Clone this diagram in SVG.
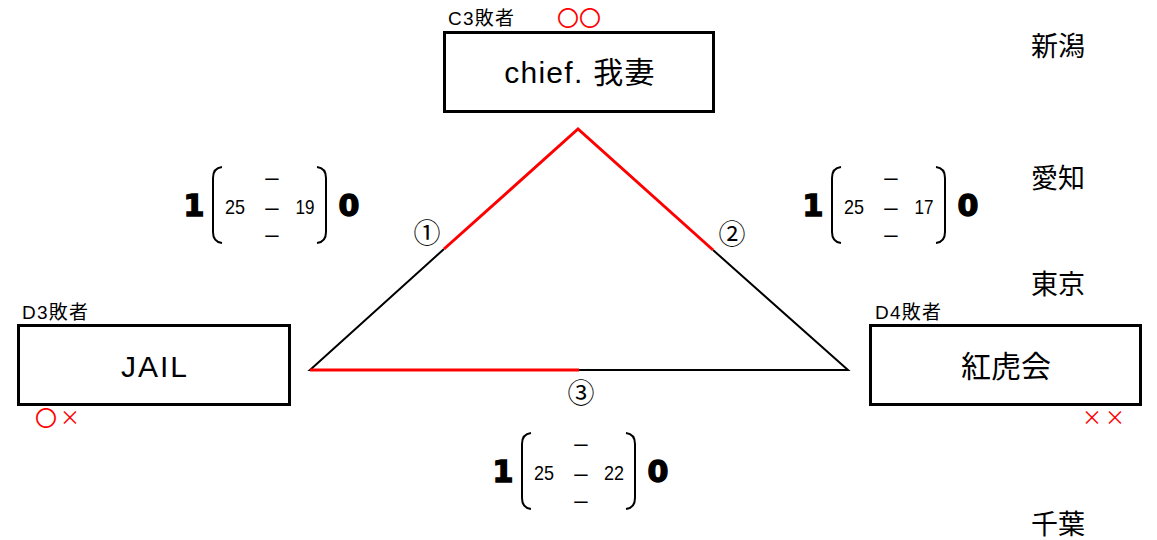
<svg xmlns="http://www.w3.org/2000/svg" width="1157" height="540" viewBox="0 0 1157 540">
<style>
.box{fill:#fff;stroke:#000;stroke-width:3}
.t{font-family:"Liberation Sans","Noto Sans CJK JP",sans-serif;fill:#000}
.red{fill:#f00;font-family:"Noto Sans CJK JP",sans-serif}
.big{font-size:30px;text-anchor:middle}
.sm{font-size:19px}
.pref{font-size:27px}
.num{font-family:"Liberation Sans","Noto Sans CJK JP",sans-serif;font-size:21px;text-anchor:middle}
.dash{font-family:"Liberation Sans",sans-serif;font-size:24px;text-anchor:middle}
.bold{font-family:"DejaVu Sans",sans-serif;font-weight:bold;font-size:30px;text-anchor:middle;stroke:#000;stroke-width:1.5}
.par{fill:none;stroke:#000;stroke-width:2}
.circ{font-family:"Noto Sans CJK JP",sans-serif;font-size:27px;text-anchor:middle}
</style>
<rect width="1157" height="540" fill="#fff"/>
<g id="connectors">
<polyline points="444,249 310,370 848,370 713,250" fill="none" stroke="#000" stroke-width="2"/>
<polyline points="444,249 578,129 713,250" fill="none" stroke="#f00" stroke-width="3"/>
<line x1="310" y1="370" x2="579" y2="370" stroke="#f00" stroke-width="3"/>
<text class="circ" x="427" y="243">①</text>
<text class="circ" x="732" y="244">②</text>
<text class="circ" x="581" y="403">③</text>
</g>
<g id="node-top">
<rect class="box" x="444.5" y="32.5" width="269" height="79"/>
<text class="t big" x="580" y="83" letter-spacing="1.3">chief. 我妻</text>
<text class="t sm" x="448" y="25" letter-spacing="1.2">C3敗者</text>
<text class="red" x="557" y="26" font-size="22">〇〇</text>
</g>
<g id="node-left">
<rect class="box" x="18.5" y="325.5" width="271" height="79"/>
<text class="t" x="155" y="377" font-size="30" letter-spacing="2" text-anchor="middle">JAIL</text>
<text class="t sm" x="22" y="319" letter-spacing="1.2">D3敗者</text>
<text class="red" x="35" y="426" font-size="22">〇</text>
<text class="red" x="60" y="425" font-size="20">×</text>
</g>
<g id="node-right">
<rect class="box" x="870.5" y="325.5" width="270" height="79"/>
<text class="t big" x="1006" y="377">紅虎会</text>
<text class="t sm" x="875" y="319" letter-spacing="1.2">D4敗者</text>
<text class="red" x="1082" y="425" font-size="20">×</text>
<text class="red" x="1105" y="425" font-size="20">×</text>
</g>
<g id="prefectures">
<text class="t pref" x="1031" y="56">新潟</text>
<text class="t pref" x="1031" y="188">愛知</text>
<text class="t pref" x="1031" y="294">東京</text>
<text class="t pref" x="1031" y="534">千葉</text>
</g>
<g id="score-1">
<text class="bold" x="194" y="216">1</text>
<path class="par" d="M222,167 Q213,168 213,178 L213,232 Q213,242 222,243"/>
<text class="num" x="235" y="214" textLength="20" lengthAdjust="spacingAndGlyphs">25</text>
<text class="dash" x="272" y="185">–</text>
<text class="dash" x="272" y="215">–</text>
<text class="dash" x="272" y="242">–</text>
<text class="num" x="305" y="214" textLength="19" lengthAdjust="spacingAndGlyphs">19</text>
<path class="par" d="M317,167 Q326,168 326,178 L326,232 Q326,242 317,243"/>
<text class="bold" x="349" y="216">0</text>
</g>
<g id="score-2" transform="translate(619,0)">
<text class="bold" x="194" y="216">1</text>
<path class="par" d="M222,167 Q213,168 213,178 L213,232 Q213,242 222,243"/>
<text class="num" x="235" y="214" textLength="20" lengthAdjust="spacingAndGlyphs">25</text>
<text class="dash" x="272" y="185">–</text>
<text class="dash" x="272" y="215">–</text>
<text class="dash" x="272" y="242">–</text>
<text class="num" x="305" y="214" textLength="19" lengthAdjust="spacingAndGlyphs">17</text>
<path class="par" d="M317,167 Q326,168 326,178 L326,232 Q326,242 317,243"/>
<text class="bold" x="349" y="216">0</text>
</g>
<g id="score-3" transform="translate(309,266)">
<text class="bold" x="194" y="216">1</text>
<path class="par" d="M222,167 Q213,168 213,178 L213,232 Q213,242 222,243"/>
<text class="num" x="235" y="214" textLength="20" lengthAdjust="spacingAndGlyphs">25</text>
<text class="dash" x="272" y="185">–</text>
<text class="dash" x="272" y="215">–</text>
<text class="dash" x="272" y="242">–</text>
<text class="num" x="305" y="214" textLength="20" lengthAdjust="spacingAndGlyphs">22</text>
<path class="par" d="M317,167 Q326,168 326,178 L326,232 Q326,242 317,243"/>
<text class="bold" x="349" y="216">0</text>
</g>
</svg>
